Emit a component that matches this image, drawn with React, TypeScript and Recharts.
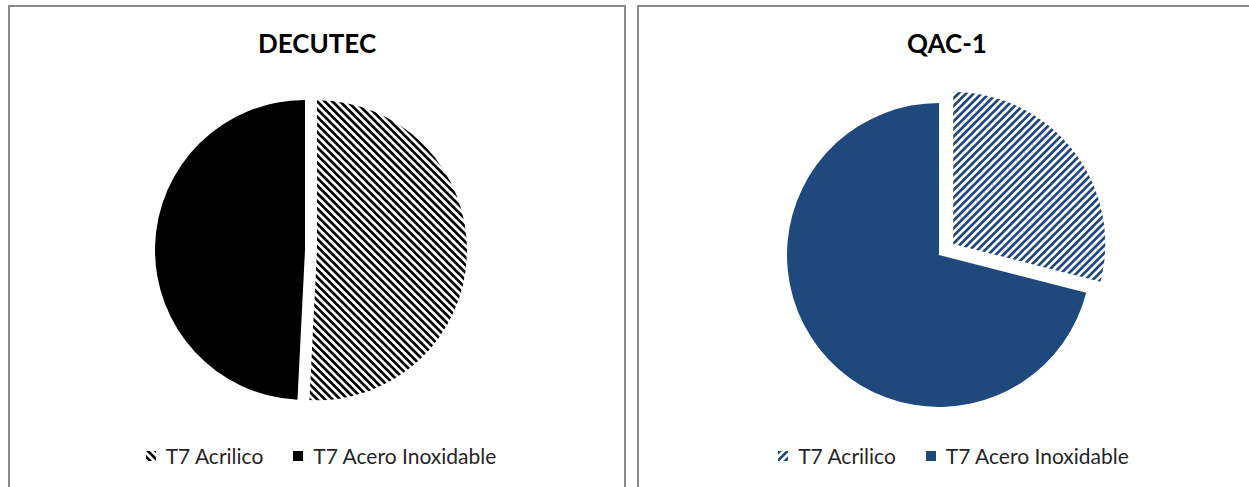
import React from 'react';
import { PieChart, Pie, Cell, Legend } from 'recharts';

// Series names shared by both pies
const categories = ['T7 Acrilico', 'T7 Acero Inoxidable'];

// Percent share per category
const decutecValues = [50.8, 49.2];
const qacValues = [29, 71];

const RAD = Math.PI / 180;

// Shift of the first (exploded) slice along its bisector, clockwise from 12 o'clock
const explodeOffset = (values: number[], index: number, dist: number) => {
    const total = values.reduce((a, b) => a + b, 0);
    const before = values.slice(0, index).reduce((a, b) => a + b, 0);
    const mid = ((before + values[index] / 2) / total) * 360;
    return { dx: Math.sin(mid * RAD) * dist, dy: -Math.cos(mid * RAD) * dist };
};

interface PanelProps {
    title: string;
    values: number[];
    color: string;
    patternId: string;
    rotate: number;
    left: number;
    width: number;
    boxLeft: number;
    boxWidth: number;
    cx: number;
    cy: number;
    radius: number;
    explode: number;
    legendShift: number;
}

const LegendRow = ({ color, patternId, legendShift }: { color: string; patternId: string; legendShift: number }) => (
    <div
        style={{
            display: 'flex',
            justifyContent: 'center',
            alignItems: 'center',
            paddingLeft: legendShift,
            fontFamily: 'Lato, sans-serif',
            fontSize: 21,
            lineHeight: '20px',
            color: '#262626',
        }}
    >
        {categories.map((name, i) => (
            <div key={name} style={{ display: 'flex', alignItems: 'center', marginRight: i === 0 ? 30 : 0 }}>
                <svg width={10} height={10} style={{ marginRight: 10 }}>
                    <rect width={10} height={10} fill={i === 0 ? `url(#${patternId})` : color} />
                </svg>
                <span>{name}</span>
            </div>
        ))}
    </div>
);

const PiePanel: React.FC<PanelProps> = (p) => {
    const data = categories.map((name, i) => ({ name, value: p.values[i] }));
    const { dx, dy } = explodeOffset(p.values, 0, p.explode);

    return (
        <div style={{ position: 'absolute', left: p.left, top: 0, width: p.width, height: 487 }}>
            <div
                style={{
                    position: 'absolute',
                    left: p.boxLeft,
                    top: 5,
                    width: p.boxWidth,
                    height: 500,
                    border: '2px solid #8a8a8a',
                    boxSizing: 'border-box',
                }}
            />
            <div
                style={{
                    position: 'absolute',
                    left: p.boxLeft,
                    width: p.boxWidth,
                    top: 30,
                    textAlign: 'center',
                    fontFamily: 'Lato, sans-serif',
                    fontWeight: 'bold',
                    fontSize: 26,
                    lineHeight: '26px',
                    color: '#000',
                }}
            >
                {p.title}
            </div>
            <div style={{ position: 'absolute', left: 0, top: 0 }}>
                <PieChart width={p.width} height={487} margin={{ top: 0, right: 0, bottom: 0, left: 0 }}>
                    <defs>
                        <pattern
                            id={p.patternId}
                            patternUnits="userSpaceOnUse"
                            width={5.4}
                            height={5.4}
                            patternTransform={`rotate(${p.rotate})`}
                        >
                            <rect x={0} y={0} width={2.7} height={5.4} fill={p.color} />
                        </pattern>
                    </defs>
                    {/* remaining slice, in place */}
                    <Pie
                        data={data}
                        dataKey="value"
                        nameKey="name"
                        cx={p.cx}
                        cy={p.cy}
                        outerRadius={p.radius}
                        startAngle={90}
                        endAngle={-270}
                        stroke="none"
                        legendType="none"
                        isAnimationActive={false}
                    >
                        <Cell fill="none" />
                        <Cell fill={p.color} />
                    </Pie>
                    {/* hatched slice, pulled out */}
                    <Pie
                        data={data}
                        dataKey="value"
                        nameKey="name"
                        cx={p.cx + dx}
                        cy={p.cy + dy}
                        outerRadius={p.radius}
                        startAngle={90}
                        endAngle={-270}
                        stroke="none"
                        legendType="none"
                        isAnimationActive={false}
                    >
                        <Cell fill={`url(#${p.patternId})`} />
                        <Cell fill="none" />
                    </Pie>
                    <Legend
                        verticalAlign="bottom"
                        wrapperStyle={{ left: 0, top: 446, bottom: 'auto', width: p.width }}
                        content={() => <LegendRow color={p.color} patternId={p.patternId} legendShift={p.legendShift} />}
                    />
                </PieChart>
            </div>
        </div>
    );
};

export default function App() {
    return (
        <div style={{ position: 'absolute', left: 0, top: 0, width: 1249, height: 487, overflow: 'hidden', background: '#fff' }}>
            <PiePanel
                title="DECUTEC"
                values={decutecValues}
                color="#000000"
                patternId="hatchDecutec"
                rotate={-45}
                left={0}
                width={630}
                boxLeft={8}
                boxWidth={618}
                cx={305}
                cy={250}
                radius={150}
                explode={12}
                legendShift={12}
            />
            <PiePanel
                title="QAC-1"
                values={qacValues}
                color="#1F497D"
                patternId="hatchQac"
                rotate={45}
                left={630}
                width={619}
                boxLeft={7}
                boxWidth={620}
                cx={309}
                cy={255}
                radius={152}
                explode={18}
                legendShift={28}
            />
        </div>
    );
}
